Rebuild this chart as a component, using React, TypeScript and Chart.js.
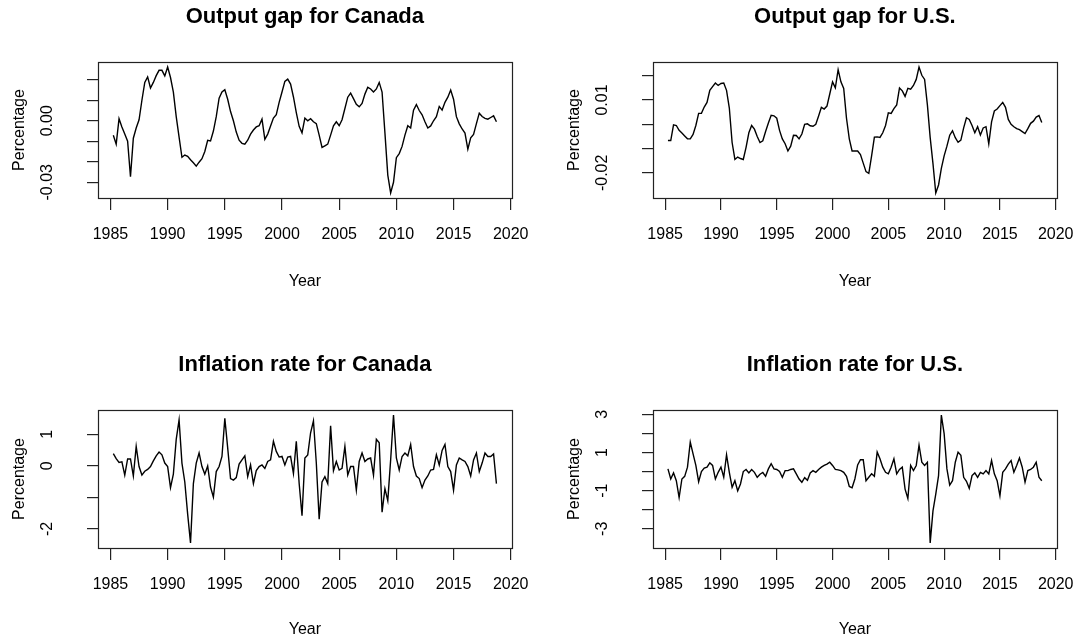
import React, { useEffect, useRef } from "react";
import { Chart, registerables } from "chart.js";

Chart.register(...registerables);

// Quarterly observations, 1985 Q2 .. 2018 Q4
const quarters: number[] = Array.from({ length: 135 }, (_, i) => 1985.25 + i * 0.25);

const yearTicks = [1985, 1990, 1995, 2000, 2005, 2010, 2015, 2020];

const canadaGap = [-0.0071,-0.0114,0.0010,-0.0030,-0.0065,-0.0100,-0.0273,-0.0085,-0.0035,0.0005,
0.0100,0.0187,0.0214,0.0160,0.0187,0.0220,0.0246,0.0246,0.0219,0.0262,
0.0211,0.0140,0.0020,-0.0080,-0.0178,-0.0167,-0.0173,-0.0190,-0.0205,-0.0221,
-0.0202,-0.0185,-0.0150,-0.0095,-0.0098,-0.0050,0.0020,0.0110,0.0140,0.0151,
0.0105,0.0045,0.0000,-0.0055,-0.0095,-0.0110,-0.0114,-0.0095,-0.0065,-0.0045,
-0.0030,-0.0024,0.0008,-0.0090,-0.0065,-0.0025,0.0013,0.0030,0.0090,0.0140,
0.0192,0.0203,0.0179,0.0116,0.0040,-0.0027,-0.0059,0.0013,0.0000,0.0010,
-0.0005,-0.0014,-0.0070,-0.0130,-0.0122,-0.0114,-0.0070,-0.0025,-0.0005,-0.0024,
0.0005,0.0060,0.0115,0.0135,0.0108,0.0080,0.0068,0.0085,0.0130,0.0163,
0.0155,0.0140,0.0155,0.0187,0.0140,-0.0059,-0.0265,-0.0352,-0.0300,-0.0180,
-0.0160,-0.0125,-0.0070,-0.0024,-0.0035,0.0052,0.0079,0.0050,0.0029,-0.0005,
-0.0035,-0.0025,0.0000,0.0020,0.0070,0.0052,0.0090,0.0115,0.0150,0.0105,
0.0020,-0.0015,-0.0040,-0.0060,-0.0138,-0.0083,-0.0067,-0.0014,0.0037,0.0021,
0.0012,0.0008,0.0016,0.0024,-0.0005];

const usGap = [-0.0067,-0.0067,-0.0002,-0.0005,-0.0025,-0.0036,-0.0048,-0.0060,-0.0060,-0.0042,
-0.0005,0.0045,0.0045,0.0071,0.0090,0.0140,0.0155,0.0170,0.0160,0.0168,
0.0170,0.0140,0.0067,-0.0075,-0.0145,-0.0135,-0.0141,-0.0145,-0.0095,-0.0035,
-0.0005,-0.0020,-0.0050,-0.0075,-0.0068,-0.0030,0.0005,0.0037,0.0035,0.0025,
-0.0025,-0.0060,-0.0080,-0.0110,-0.0090,-0.0045,-0.0046,-0.0060,-0.0040,0.0000,
0.0002,-0.0006,-0.0008,0.0000,0.0034,0.0070,0.0063,0.0075,0.0125,0.0175,
0.0150,0.0225,0.0175,0.0148,0.0025,-0.0060,-0.0110,-0.0110,-0.0110,-0.0125,
-0.0160,-0.0195,-0.0202,-0.0130,-0.0053,-0.0052,-0.0054,-0.0035,-0.0005,0.0047,
0.0045,0.0065,0.0080,0.0150,0.0138,0.0115,0.0148,0.0145,0.0160,0.0185,
0.0236,0.0202,0.0185,0.0080,-0.0055,-0.0162,-0.0283,-0.0250,-0.0182,-0.0130,
-0.0090,-0.0045,-0.0027,-0.0055,-0.0074,-0.0065,-0.0015,0.0027,0.0020,-0.0005,
-0.0035,-0.0010,-0.0044,-0.0015,-0.0010,-0.0081,0.0010,0.0055,0.0063,0.0077,
0.0090,0.0070,0.0020,0.0000,-0.0010,-0.0018,-0.0022,-0.0030,-0.0038,-0.0018,
0.0004,0.0013,0.0030,0.0036,0.0007];

const canadaInflation = [0.39,0.23,0.11,0.13,-0.29,0.22,0.22,-0.32,0.62,-0.02,
-0.29,-0.17,-0.11,-0.02,0.16,0.32,0.44,0.35,0.09,-0.02,
-0.69,-0.26,0.84,1.46,0.09,-0.51,-1.53,-2.44,-0.56,0.09,
0.41,-0.02,-0.26,0.00,-0.67,-0.99,-0.18,-0.02,0.30,1.51,
0.57,-0.40,-0.45,-0.37,0.06,0.19,0.32,-0.34,0.03,-0.56,
-0.15,-0.02,0.03,-0.08,0.14,0.19,0.78,0.46,0.28,0.30,
0.03,0.28,0.30,-0.24,0.78,-0.56,-1.58,0.25,0.35,1.05,
1.43,0.09,-1.69,-0.51,-0.34,-0.56,1.27,-0.15,0.14,-0.13,
-0.08,0.62,-0.29,-0.02,-0.02,-0.77,0.14,0.41,0.14,0.22,
0.25,-0.29,0.84,0.73,-1.47,-0.72,-1.10,0.19,1.61,0.25,
-0.13,0.30,0.41,0.32,0.68,-0.02,-0.32,-0.40,-0.69,-0.45,
-0.32,-0.13,-0.11,0.35,0.03,0.49,0.68,-0.02,-0.18,-0.77,
0.03,0.25,0.19,0.14,-0.02,-0.32,0.19,0.41,-0.18,0.09,
0.41,0.30,0.30,0.38,-0.56];

const usInflation = [0.14,-0.39,-0.07,-0.48,-1.36,-0.39,-0.25,0.23,1.55,0.93,
0.32,-0.53,0.00,0.18,0.23,0.46,0.32,-0.39,-0.04,0.23,
-0.30,0.88,-0.04,-0.83,-0.48,-1.01,-0.65,0.00,0.11,-0.07,
0.11,-0.04,-0.30,-0.14,-0.05,-0.25,0.14,0.41,0.14,0.11,
0.00,-0.30,0.05,0.05,0.11,0.14,-0.12,-0.39,-0.56,-0.32,
-0.46,-0.07,0.05,-0.04,0.11,0.23,0.32,0.39,0.49,0.32,
0.11,0.09,0.05,-0.04,-0.25,-0.78,-0.85,-0.39,0.35,0.62,
0.62,-0.48,-0.30,-0.12,-0.25,1.02,0.67,0.23,-0.04,-0.12,
0.23,0.67,-0.12,0.11,0.23,-0.92,-1.41,0.32,0.05,0.32,
1.38,0.49,0.32,0.49,-3.74,-2.06,-1.18,-0.21,2.96,1.99,
0.14,-0.71,-0.48,0.49,1.02,0.85,-0.30,-0.51,-0.88,-0.21,
-0.07,-0.30,-0.04,-0.12,0.05,-0.12,0.58,-0.12,-0.48,-1.27,
-0.04,0.14,0.39,0.58,-0.04,0.32,0.71,0.23,-0.56,0.05,
0.11,0.23,0.49,-0.30,-0.48];

const canadaGapTicks = [-0.03, -0.02, -0.01, 0, 0.01, 0.02];
const canadaGapLabelVals = [-0.03, 0];
const canadaGapLabels = ["-0.03", "0.00"];

const usGapTicks = [-0.02, -0.01, 0, 0.01, 0.02];
const usGapLabelVals = [-0.02, 0.01];
const usGapLabels = ["-0.02", "0.01"];

const canadaInflTicks = [-2, -1, 0, 1];
const canadaInflLabelVals = [-2, 0, 1];
const canadaInflLabels = ["-2", "0", "1"];

const usInflTicks = [-3, -2, -1, 0, 1, 2, 3];
const usInflLabelVals = [-3, -1, 1, 3];
const usInflLabels = ["-3", "-1", "1", "3"];

const FONT = "'Liberation Sans', Arial, Helvetica, sans-serif";
const TEXT_SIZE = 16;
const TITLE_SIZE = 22;

const rPlotPlugin = {
  id: "rPlot",
  afterDraw(chart: any, _args: any, opts: any) {
    const { ctx, chartArea: a } = chart;
    ctx.save();
    ctx.strokeStyle = "#222";
    ctx.lineWidth = 1.2;
    ctx.strokeRect(
      Math.round(a.left) + 0.5,
      Math.round(a.top) + 0.5,
      Math.round(a.right - a.left),
      Math.round(a.bottom - a.top)
    );
    const ys = chart.scales.y;
    ctx.fillStyle = "#000";
    ctx.font = `${TEXT_SIZE}px ${FONT}`;
    ctx.textAlign = "center";
    ctx.textBaseline = "middle";
    (opts.labels as string[]).forEach((lab, i) => {
      const py = ys.getPixelForValue(opts.values[i]);
      ctx.save();
      ctx.translate(a.left - 50, py);
      ctx.rotate(-Math.PI / 2);
      ctx.fillText(lab, 0, 0);
      ctx.restore();
    });
    ctx.restore();
  },
};

type PanelProps = {
  title: string;
  values: number[];
  ticks: number[];
  labelVals: number[];
  labels: string[];
  left: number;
  top: number;
  width: number;
  height: number;
  padRight: number;
  plotBottom: number; // relative to canvas
  yearPadBottom: number;
};

function Panel(p: PanelProps) {
  const ref = useRef<HTMLCanvasElement | null>(null);
  useEffect(() => {
    if (!ref.current) return;
    const xr = quarters[quarters.length - 1] - quarters[0];
    const xMin = quarters[0] - 0.04 * xr;
    const xMax = quarters[quarters.length - 1] + 0.04 * xr;
    const vMin = Math.min(...p.values);
    const vMax = Math.max(...p.values);
    const yr = vMax - vMin;
    const yMin = vMin - 0.04 * yr;
    const yMax = vMax + 0.04 * yr;
    const font = { family: FONT, size: TEXT_SIZE };
    const chart = new Chart(ref.current, {
      type: "line",
      data: {
        datasets: [
          {
            data: quarters.map((q, i) => ({ x: q, y: p.values[i] })),
            borderColor: "#000",
            borderWidth: 1.4,
            pointRadius: 0,
            tension: 0,
            fill: false,
          },
        ],
      },
      options: {
        animation: false,
        responsive: false,
        devicePixelRatio: 1,
        layout: { padding: { left: 0, right: p.padRight, top: 0, bottom: 0 } },
        plugins: {
          legend: { display: false },
          tooltip: { enabled: false },
          title: {
            display: true,
            text: p.title,
            fullSize: false,
            color: "#000",
            font: { family: FONT, size: TITLE_SIZE, weight: "bold" },
            padding: { top: 17 - TITLE_SIZE * 0.6, bottom: 62 - (17 - TITLE_SIZE * 0.6) - TITLE_SIZE * 1.2 },
          },
          rPlot: { labels: p.labels, values: p.labelVals },
        } as any,
        scales: {
          x: {
            type: "linear",
            min: xMin,
            max: xMax,
            afterBuildTicks: (s: any) => {
              s.ticks = yearTicks.map((v) => ({ value: v }));
            },
            afterFit: (s: any) => {
              s.height = p.height - p.plotBottom;
            },
            grid: { display: true, drawOnChartArea: false, drawTicks: true, tickLength: 12, color: "#222", lineWidth: 1.2 },
            border: { display: false },
            ticks: {
              color: "#000",
              font,
              padding: 37 - 12 - TEXT_SIZE * 0.6,
              maxRotation: 0,
              minRotation: 0,
              autoSkip: false,
              callback: (v: any) => String(v),
            },
            title: {
              display: true,
              text: "Year",
              color: "#000",
              font,
              padding: { top: 0, bottom: p.yearPadBottom },
            },
          },
          y: {
            type: "linear",
            min: yMin,
            max: yMax,
            afterBuildTicks: (s: any) => {
              s.ticks = p.ticks.map((v) => ({ value: v }));
            },
            afterFit: (s: any) => {
              s.width = 98;
            },
            grid: { display: true, drawOnChartArea: false, drawTicks: true, tickLength: 11, color: "#222", lineWidth: 1.2 },
            border: { display: false },
            ticks: { display: false },
            title: {
              display: true,
              text: "Percentage",
              color: "#000",
              font,
              padding: { top: 20 - TEXT_SIZE * 0.6, bottom: 0 },
            },
          },
        },
      } as any,
      plugins: [rPlotPlugin as any],
    });
    return () => chart.destroy();
  }, []);
  return (
    <canvas
      ref={ref}
      width={p.width}
      height={p.height}
      style={{ position: "absolute", left: p.left, top: p.top, width: p.width, height: p.height, display: "block" }}
    />
  );
}

export default function App() {
  return (
    <div style={{ position: "absolute", left: 0, top: 0, width: 1089, height: 643, background: "#fff", overflow: "hidden" }}>
      <Panel title="Output gap for Canada" values={canadaGap} ticks={canadaGapTicks} labelVals={canadaGapLabelVals} labels={canadaGapLabels}
        left={0} top={0} width={544} height={300} padRight={32} plotBottom={198} yearPadBottom={300 - 282 - TEXT_SIZE * 0.6} />
      <Panel title="Output gap for U.S." values={usGap} ticks={usGapTicks} labelVals={usGapLabelVals} labels={usGapLabels}
        left={555} top={0} width={534} height={300} padRight={21} plotBottom={198} yearPadBottom={300 - 282 - TEXT_SIZE * 0.6} />
      <Panel title="Inflation rate for Canada" values={canadaInflation} ticks={canadaInflTicks} labelVals={canadaInflLabelVals} labels={canadaInflLabels}
        left={0} top={348} width={544} height={295} padRight={32} plotBottom={200} yearPadBottom={295 - 282 - TEXT_SIZE * 0.6} />
      <Panel title="Inflation rate for U.S." values={usInflation} ticks={usInflTicks} labelVals={usInflLabelVals} labels={usInflLabels}
        left={555} top={348} width={534} height={295} padRight={21} plotBottom={200} yearPadBottom={295 - 282 - TEXT_SIZE * 0.6} />
    </div>
  );
}
